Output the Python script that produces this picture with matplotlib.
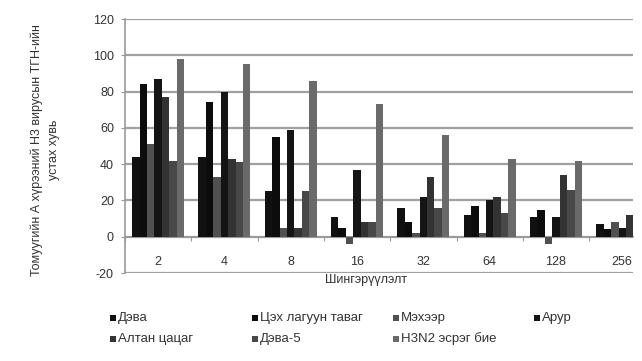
import matplotlib
matplotlib.use("Agg")
import matplotlib.pyplot as plt
import numpy as np
from matplotlib.patches import Rectangle

plt.rcParams['font.family'] = ['Liberation Sans', 'DejaVu Sans']

categories = ["2", "4", "8", "16", "32", "64", "128", "256"]
series_names = ["Дэва", "Цэх лагуун таваг", "Мэхээр", "Арур",
                "Алтан цацаг", "Дэва-5", "H3N2 эсрэг бие"]
deva = [44, 44, 25, 11, 16, 12, 11, 7]
tsekh = [84, 74, 55, 5, 8, 17, 15, 4]
mekheer = [51, 33, 5, -4, 2, 2, -4, 8]
arur = [87, 80, 59, 37, 22, 20, 11, 5]
altan = [77, 43, 5, 8, 33, 22, 34, 12]
deva5 = [42, 41, 25, 8, 16, 13, 26, 10]
h3n2 = [98, 95, 86, 73, 56, 43, 42, 20]
series_values = [deva, tsekh, mekheer, arur, altan, deva5, h3n2]
colors = ["#111111", "#0c0c0c", "#505050", "#141414", "#333333", "#484848", "#6a6a6a"]
yticks = [-20, 0, 20, 40, 60, 80, 100, 120]

W, H = 642, 361
fig = plt.figure(figsize=(W / 100, H / 100), dpi=100)
ax = fig.add_axes([125 / W, 1 - 273 / H, (633 - 125) / W, (273 - 19) / H])

x = np.arange(len(categories))
bw = 0.112
for i, (vals, c) in enumerate(zip(series_values, colors)):
    ax.bar(x + (i - 3) * bw, vals, width=bw, color=c, zorder=3, linewidth=0)

ax.set_yticks(yticks)
ax.set_yticklabels([str(t) for t in yticks], fontsize=9, color="#333333")
ax.yaxis.grid(True, color="#a0a0a0", linewidth=1.6, zorder=0)
ax.tick_params(axis='y', length=3, color="#999999", pad=5)

for s in ['top', 'right']:
    ax.spines[s].set_visible(False)
ax.spines['left'].set_color("#999999")
ax.spines['left'].set_linewidth(1.2)
ax.spines['bottom'].set_position(('data', 0))
ax.spines['bottom'].set_color("#999999")
ax.spines['bottom'].set_linewidth(1.2)

ax.set_xticks(np.arange(-0.5, len(categories), 1.0))
ax.set_xticklabels([])
ax.tick_params(axis='x', which='major', length=3, color="#999999", direction='out')
ax.set_xticks(x, minor=True)
ax.set_xticklabels(categories, minor=True, fontsize=9, color="#333333")
ax.tick_params(axis='x', which='minor', length=0, pad=14)

ax.set_ylim(-20, 120)
ax.set_xlim(-0.5, -0.5 + 508 / 66.3)

fig.text(366 / W, 1 - 280 / H, "Шингэрүүлэлт", fontsize=9, color="#333333",
         ha='center', va='center')
fig.text(45 / W, 1 - 150 / H, "Томуугийн А хүрээний H3 вирусын ТГН-ийн\nустах хувь",
         fontsize=9, color="#333333", rotation=90, ha='center', va='center',
         multialignment='center', linespacing=1.6)

# legend
col_x = [113, 255, 396, 537]
row_y = [318, 339]
order = [(0, 0), (0, 1), (0, 2), (0, 3), (1, 0), (1, 1), (1, 2)]
for (r, cidx), name, c in zip(order, series_names, colors):
    xm, ym = col_x[cidx], row_y[r]
    fig.patches.append(Rectangle(((xm - 3) / W, 1 - (ym + 3) / H), 6 / W, 6 / H,
                                 transform=fig.transFigure, facecolor=c,
                                 edgecolor='none', figure=fig))
    fig.text((xm + 5) / W, 1 - ym / H, name, fontsize=9.5, color="#333333",
             ha='left', va='center')

fig.savefig("out.png", dpi=100)
